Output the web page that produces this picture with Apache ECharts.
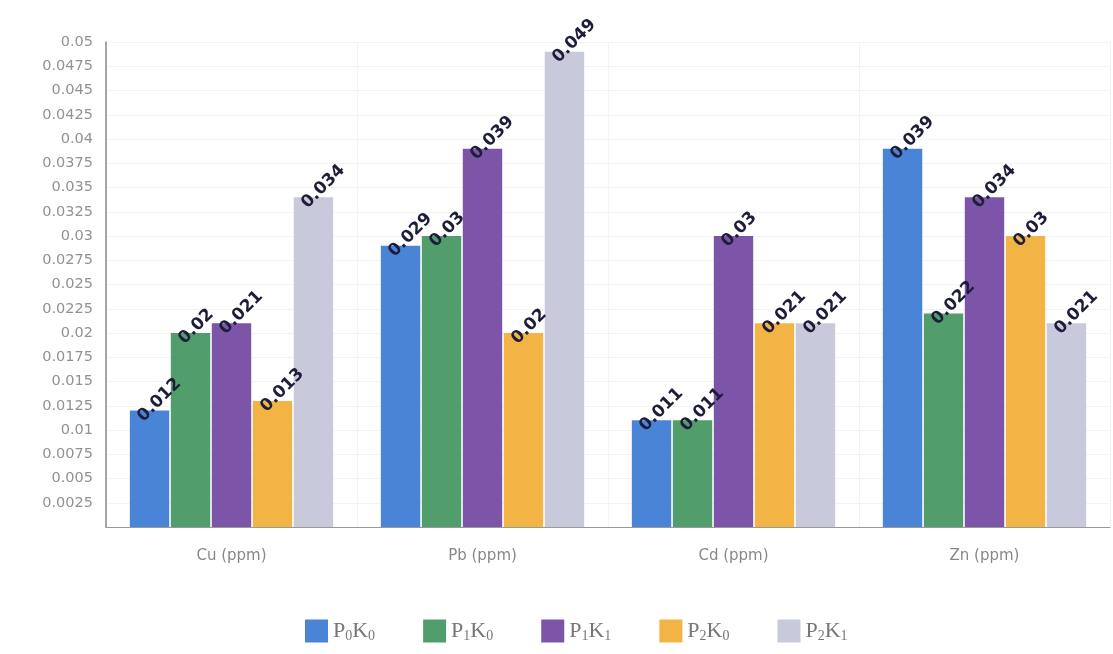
<!DOCTYPE html>
<html>
<head>
<meta charset="utf-8">
<script src="https://cdn.jsdelivr.net/npm/echarts@6/dist/echarts.min.js"></script>
<style>
  html, body { margin: 0; padding: 0; background: #fff; }
  #chart { width: 1113px; height: 654px; }
</style>
</head>
<body>
<div id="chart"></div>
<script>
// Heavy-metal concentrations by treatment
const categories = ['Cu (ppm)', 'Pb (ppm)', 'Cd (ppm)', 'Zn (ppm)'];
const seriesNames = ['P0K0', 'P1K0', 'P1K1', 'P2K0', 'P2K1'];
const P0K0 = [0.012, 0.029, 0.011, 0.039];
const P1K0 = [0.02, 0.03, 0.011, 0.022];
const P1K1 = [0.021, 0.039, 0.03, 0.034];
const P2K0 = [0.013, 0.02, 0.021, 0.03];
const P2K1 = [0.034, 0.049, 0.021, 0.021];
const colors = ['#4a84d6', '#519d6c', '#7c54a8', '#f3b446', '#c8cadc'];

const values = [P0K0, P1K0, P1K1, P2K0, P2K1];

const chart = echarts.init(document.getElementById('chart'));

const series = seriesNames.map((name, i) => ({
  name: name,
  type: 'bar',
  data: values[i],
  barGap: '4%',
  barCategoryGap: '19%',
  itemStyle: { color: colors[i] },
  label: {
    show: true,
    position: 'top',
    rotate: 45,
    align: 'left',
    verticalAlign: 'middle',
    offset: [-16, 3],
    color: '#1d1d3a',
    fontFamily: 'DejaVu Sans',
    fontWeight: 'bold',
    fontSize: 17,
    formatter: p => String(p.value)
  }
}));

chart.setOption({
  backgroundColor: '#ffffff',
  animation: false,
  color: colors,
  grid: { left: 106, right: 3, top: 42, bottom: 127 },
  legend: {
    bottom: 6,
    left: 300,
    itemWidth: 23,
    itemHeight: 23,
    itemGap: 48,
    icon: 'rect',
    data: seriesNames,
    formatter: n => '{a|P}{s|' + n[1] + '}{a|K}{s|' + n[3] + '}',
    textStyle: {
      color: '#777',
      rich: {
        a: { fontFamily: 'Liberation Serif', fontSize: 22, color: '#777' },
        s: { fontFamily: 'Liberation Serif', fontSize: 14, color: '#777', padding: [10, 0, 0, 0] }
      }
    }
  },
  xAxis: {
    type: 'category',
    data: categories,
    axisLine: { show: true, lineStyle: { color: '#999', width: 1 } },
    axisTick: { show: false },
    axisLabel: { color: '#888', fontFamily: 'DejaVu Sans', fontSize: 15, margin: 22 },
    splitLine: { show: true, lineStyle: { color: '#f3f3f3' } }
  },
  yAxis: {
    type: 'value',
    min: 0,
    max: 0.05,
    interval: 0.0025,
    axisLine: { show: true, lineStyle: { color: '#8a8a8a', width: 1.5 } },
    axisTick: { show: false },
    axisLabel: {
      color: '#929292',
      fontFamily: 'DejaVu Sans',
      fontSize: 14.5,
      margin: 13,
      formatter: v => v === 0 ? '' : String(+v.toFixed(4))
    },
    splitLine: { show: true, lineStyle: { color: '#f3f3f3' } }
  },
  series: series
});
</script>
</body>
</html>
